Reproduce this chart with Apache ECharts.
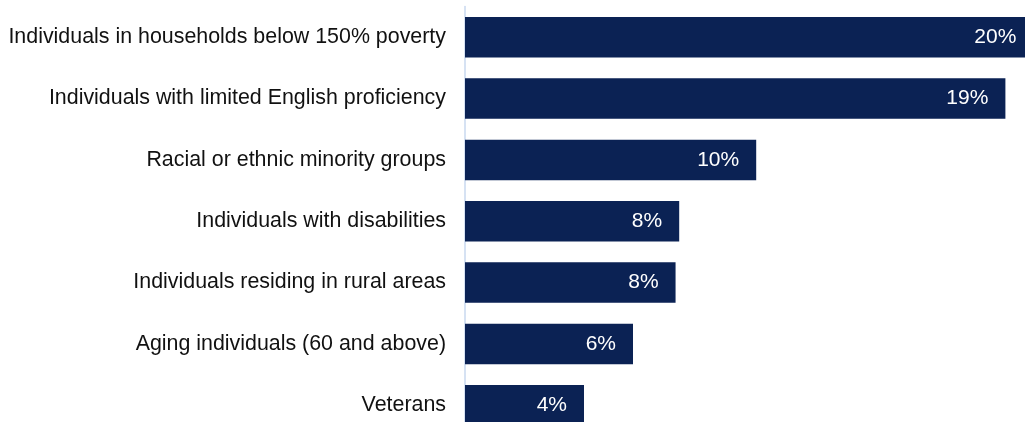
<!DOCTYPE html>
<html>
<head>
<meta charset="utf-8">
<script src="https://cdn.jsdelivr.net/npm/echarts@6/dist/echarts.min.js"></script>
<style>
html,body{margin:0;padding:0;background:#fff;overflow:hidden;width:1025px;height:422px;}
#chart{width:1070px;height:440px;}
</style>
</head>
<body>
<div id="chart"></div>
<script>
const categories = [
  "Individuals in households below 150% poverty",
  "Individuals with limited English proficiency",
  "Racial or ethnic minority groups",
  "Individuals with disabilities",
  "Individuals residing in rural areas",
  "Aging individuals (60 and above)",
  "Veterans"
];
const values = [20.3, 19.3, 10.4, 7.65, 7.52, 6.0, 4.25];

const chart = echarts.init(document.getElementById('chart'), null, {renderer: 'canvas'});
chart.setOption({
  animation: false,
  grid: {left: 465, top: 6.6, width: 588, height: 429.3, containLabel: false},
  xAxis: {
    type: 'value', min: 0, max: 21, show: false
  },
  yAxis: {
    type: 'category', data: categories, inverse: true, offset: 1,
    axisLine: {show: true, lineStyle: {color: '#c9d8ef', width: 1.5}},
    axisTick: {show: false},
    axisLabel: {color: '#111111', fontSize: 21.4, fontFamily: 'Liberation Sans, Arial, sans-serif', margin: 18}
  },
  series: [{
    type: 'bar', data: values, barWidth: 40.5,
    itemStyle: {color: '#0b2254'},
    label: {
      show: true, position: 'insideRight', distance: 17,
      color: '#ffffff', fontSize: 21, fontFamily: 'Liberation Sans, Arial, sans-serif',
      formatter: p => Math.round(p.value) + '%'
    }
  }]
});
</script>
</body>
</html>
